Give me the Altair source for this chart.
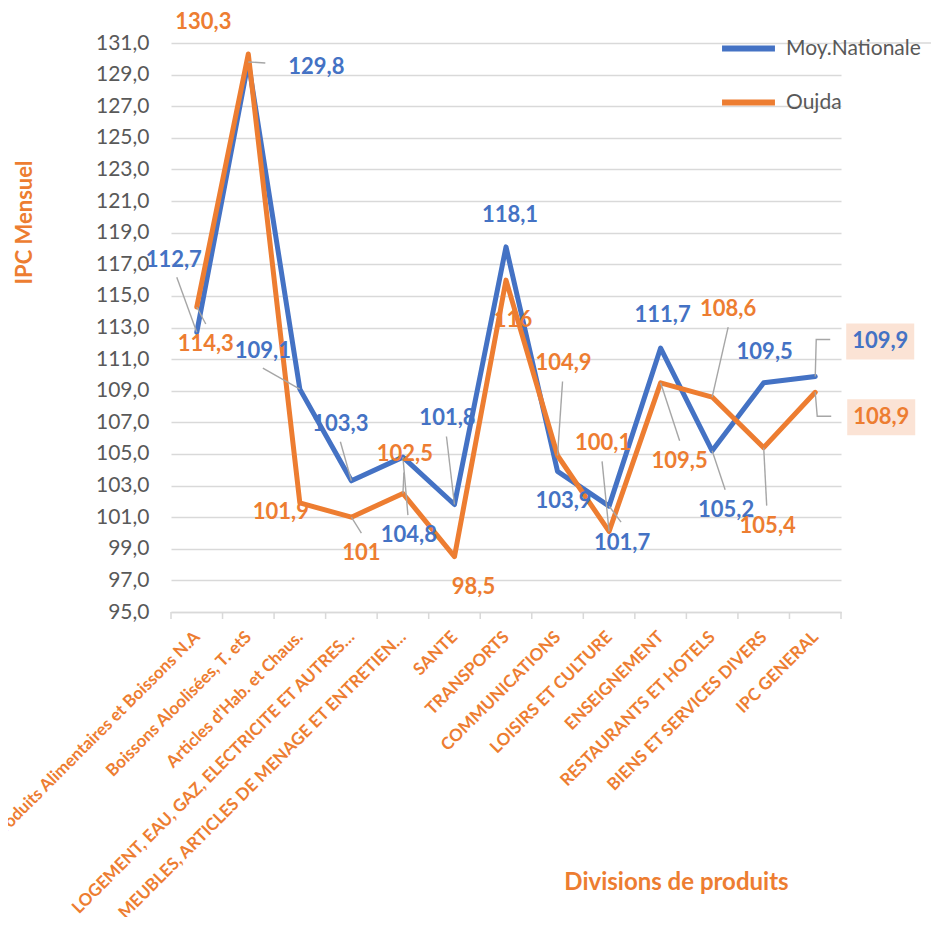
import json
import altair as alt
import pandas as pd

# ---------------- data ----------------
categories = [
    "Produits Alimentaires et Boissons N.A",
    "Boissons Aloolisées, T. etS",
    "Articles d'Hab. et Chaus.",
    "LOGEMENT, EAU, GAZ, ELECTRICITE ET AUTRES…",
    "MEUBLES, ARTICLES DE MENAGE ET ENTRETIEN…",
    "SANTE",
    "TRANSPORTS",
    "COMMUNICATIONS",
    "LOISIRS ET CULTURE",
    "ENSEIGNEMENT",
    "RESTAURANTS ET HOTELS",
    "BIENS ET SERVICES DIVERS",
    "IPC GENERAL",
]
series_names = ["Moy.Nationale", "Oujda"]
nationale = [112.7, 129.8, 109.1, 103.3, 104.8, 101.8, 118.1, 103.9, 101.7, 111.7, 105.2, 109.5, 109.9]
oujda = [114.3, 130.3, 101.9, 101.0, 102.5, 98.5, 116.0, 104.9, 100.1, 109.5, 108.6, 105.4, 108.9]
y_ticks = list(range(95, 132, 2))

# ---------------- styling (label placement in pixels) ----------------
BLUE, ORANGE = "#4472C4", "#ED7D31"
W, H = 670, 569
Y0, Y1 = 95, 131
PXX = W / len(categories)
PXY = H / (Y1 - Y0)

nat_lab = [(-23, -72), (68, 5), (-37, -38), (-11, -57), (6, 78), (-7, -87), (4, -32),
           (6, 30), (13, 37), (2, -33), (14, 59), (1, -31), (65, -35)]
nat_lead = [(-20, -55), (17, 1), (-37, -21), (-11, -39), (5, 58), (-8, -68), None,
            None, (12, 16), None, (13, 39), None, (15, -37)]
nat_knee = [None] * 12 + [(1, -37)]

ouj_lab = [(9, 37), (-45, -32), (-19, 9), (10, 36), (2, -39), (19, 30), (7, 40),
           (6, -93), (-6, -88), (19, 78), (16, -88), (4, 78), (66, 25)]
ouj_lead = [(9, 17), None, None, (10, 16), (1, -21), None, None,
            (5, -74), (-7, -70), (19, 58), (16, -70), (3, 58), (16, 24)]
ouj_knee = [None] * 12 + [(2, 24)]
boxed = [False] * 12 + [True]


def fmt(v):
    return f"{v:g}".replace(".", ",")


line_rows, label_rows, lead_rows, box_rows = [], [], [], []
lid = 0
for name, vals, lab, lead, knee in [
    (series_names[0], nationale, nat_lab, nat_lead, nat_knee),
    (series_names[1], oujda, ouj_lab, ouj_lead, ouj_knee),
]:
    for i, v in enumerate(vals):
        line_rows.append({"idx": i, "value": v, "series": name})
        lx = i + lab[i][0] / PXX
        ly = v - lab[i][1] / PXY
        label_rows.append({"idx": lx, "value": ly, "series": name, "text": fmt(v)})
        if boxed[i]:
            box_rows.append({"idx": lx - 34 / PXX, "x2": lx + 34 / PXX,
                             "value": ly - 18 / PXY, "y2": ly + 18 / PXY})
        if lead[i] is not None:
            pts = [(0, 0)]
            if knee[i] is not None:
                pts.append(knee[i])
            pts.append(lead[i])
            for k, (dx, dy) in enumerate(pts):
                lead_rows.append({"id": lid, "o": k, "idx": i + dx / PXX, "value": v - dy / PXY})
            lid += 1

lines_df = pd.DataFrame(line_rows)
labels_df = pd.DataFrame(label_rows)
lead_df = pd.DataFrame(lead_rows)
box_df = pd.DataFrame(box_rows)
ticks_df = pd.DataFrame({"idx": [i - 0.5 for i in range(len(categories) + 1)]})

xscale = alt.Scale(domain=[-0.5, len(categories) - 0.5], nice=False, zero=False)
yscale = alt.Scale(domain=[Y0, Y1], nice=False, zero=False)
cscale = alt.Scale(domain=series_names, range=[BLUE, ORANGE])

label_expr = json.dumps(categories, ensure_ascii=False) + "[datum.value]"

x_axis = alt.Axis(
    values=list(range(len(categories))), labelExpr=label_expr,
    labelAngle=-45, labelAlign="right", labelBaseline="middle",
    labelColor=ORANGE, labelFont="Lato", labelFontWeight="bold", labelFontSize=17,
    labelPadding=22, labelLimit=1000, labelOverlap=False, labelBound=False,
    tickSize=0, grid=False, domainColor="#D9D9D9", domainWidth=1.5,
    title="Divisions de produits", titleX=505, titleY=270, titleBaseline="middle",
    titleColor=ORANGE, titleFont="Lato", titleFontWeight="bold", titleFontSize=24,
)
y_axis = alt.Axis(
    values=y_ticks, labelExpr="replace(format(datum.value,'.1f'),'.',',')",
    labelColor="#595959", labelFont="Lato", labelFontSize=21, labelPadding=22,
    tickSize=0, domain=False, gridColor="#D9D9D9", gridWidth=1.5,
    title="IPC Mensuel", titleX=-147, titleY=179, titleAngle=270, titleBaseline="middle",
    titleColor=ORANGE, titleFont="Lato", titleFontWeight="bold", titleFontSize=22,
)

X = alt.X("idx:Q", scale=xscale, axis=x_axis, title="Divisions de produits")
Y = alt.Y("value:Q", scale=yscale, axis=y_axis, title="IPC Mensuel")

base_lines = alt.Chart(lines_df).mark_line(strokeWidth=5, strokeJoin="round", strokeCap="round").encode(
    x=X, y=Y,
    color=alt.Color("series:N", scale=cscale, sort=series_names, legend=alt.Legend(
        orient="none", legendX=548, legendY=-24, title=None, symbolType="stroke",
        symbolSize=2800, symbolStrokeWidth=6, labelFont="Lato", labelFontSize=21,
        labelColor="#595959", rowPadding=12, labelOffset=8, padding=0)),
    order=alt.Order("idx:Q"),
)

ticks = alt.Chart(ticks_df).mark_rule(color="#D9D9D9", strokeWidth=1.5).encode(
    x=X, y=alt.value(H), y2=alt.value(H + 7))

top_ext = alt.Chart(ticks_df.head(1)).mark_rule(color="#D9D9D9", strokeWidth=1.5).encode(
    x=alt.value(W), x2=alt.value(944 - 8 - 163), y=alt.value(0))

leaders = alt.Chart(lead_df).mark_line(color="#A6A6A6", strokeWidth=1.4).encode(
    x=X, y=Y, detail="id:N", order="o:Q")

boxes = alt.Chart(box_df).mark_rect(color="#FBE3D5").encode(
    x=X, x2="x2:Q", y=Y, y2="y2:Q")

labels = alt.Chart(labels_df).mark_text(font="Lato", fontWeight="bold", fontSize=22,
                                        baseline="middle", align="center").encode(
    x=X, y=Y, text="text:N", color=alt.Color("series:N", scale=cscale, legend=None))

chart = alt.layer(base_lines, ticks, top_ext, leaders, boxes, labels).properties(
    width=W, height=H, background="white",
    autosize=alt.AutoSizeParams(type="none"),
    padding={"left": 163, "top": 35, "right": 90, "bottom": 305},
).configure_view(strokeWidth=0)

chart.save("out.html", embed_options={"renderer": "svg", "actions": False})
